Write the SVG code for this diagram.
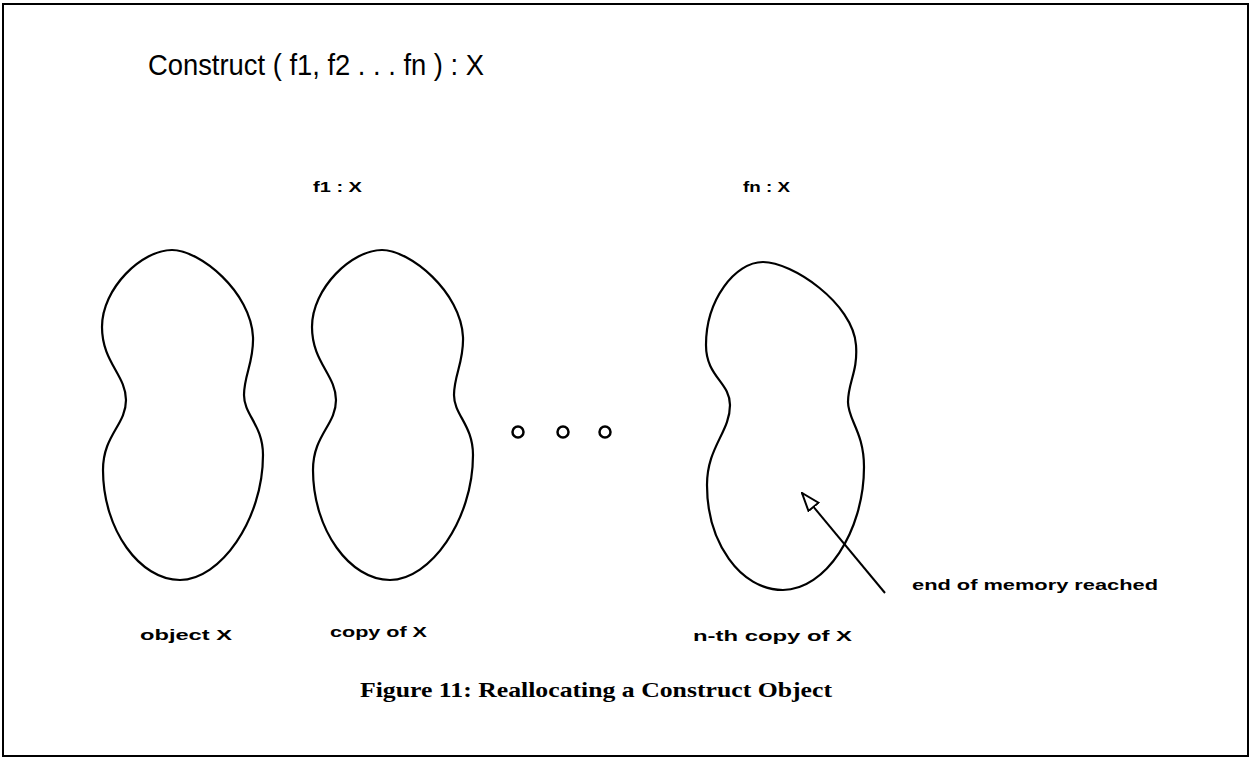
<svg xmlns="http://www.w3.org/2000/svg" width="1251" height="759" viewBox="0 0 1251 759">
<style>
.blob{fill:none;stroke:#000;stroke-width:2.2}
.lbl{font-family:"Liberation Sans",Arial,sans-serif;font-size:15px;font-weight:bold;fill:#000}
.title{font-family:"Liberation Sans",Arial,sans-serif;font-size:29px;fill:#000}
.cap{font-family:"Liberation Serif","Times New Roman",serif;font-size:21px;font-weight:bold;fill:#000}
.dot{fill:none;stroke:#000;stroke-width:2.5}
</style>
<defs>
<marker id="open" markerUnits="userSpaceOnUse" viewBox="0 0 20 16" refX="19" refY="8" markerWidth="20" markerHeight="16" orient="auto">
<path d="M1,1.5 L19,8 L1,14.5 Z" fill="#fff" stroke="#000" stroke-width="2"/>
</marker>
<path id="peanut" d="M172,250 C200,250 251,292 253,337 C254,362 244,375 244,395 C244,415 263,425 263,455 C263,520 220,580 180,580 C140,580 103,530 103,470 C103,435 126,425 126,400 C126,375 102,362 102,327 C102,288 142,250 172,250 Z"/>
</defs>
<rect x="3" y="4" width="1245" height="752" fill="#fff" stroke="#000" stroke-width="2"/>
<text class="title" x="148" y="75" textLength="336" lengthAdjust="spacingAndGlyphs">Construct ( f1, f2 . . . fn ) : X</text>
<g id="object-x">
<use href="#peanut" class="blob"/>
<text class="lbl" x="140" y="640" textLength="92" lengthAdjust="spacingAndGlyphs">object X</text>
</g>
<g id="copy-1">
<use href="#peanut" class="blob" transform="translate(210,0)"/>
<text class="lbl" x="313" y="192" textLength="49" lengthAdjust="spacingAndGlyphs">f1 : X</text>
<text class="lbl" x="330" y="637" textLength="97" lengthAdjust="spacingAndGlyphs">copy of X</text>
</g>
<g id="ellipsis">
<circle class="dot" cx="518" cy="432" r="5.5"/>
<circle class="dot" cx="563" cy="432" r="5.5"/>
<circle class="dot" cx="605" cy="432" r="5.5"/>
</g>
<g id="copy-n">
<path class="blob" d="M763,262 C792,262 853,303 856,345 C858,372 848,382 848,402 C848,420 864,432 864,467 C864,532 825,590 783,590 C740,590 707,542 707,485 C707,447 730,432 730,405 C730,382 706,377 706,345 C706,300 735,262 763,262 Z"/>
<text class="lbl" x="743" y="192" textLength="47" lengthAdjust="spacingAndGlyphs">fn : X</text>
<text class="lbl" x="693" y="641" textLength="159" lengthAdjust="spacingAndGlyphs">n-th copy of X</text>
</g>
<g id="note">
<text class="lbl" x="912" y="590" textLength="246" lengthAdjust="spacingAndGlyphs">end of memory reached</text>
</g>
<g id="connectors">
<line x1="885" y1="593" x2="802" y2="493" stroke="#000" stroke-width="2" marker-end="url(#open)"/>
</g>
<text class="cap" x="360" y="697" textLength="472" lengthAdjust="spacingAndGlyphs">Figure 11: Reallocating a Construct Object</text>
</svg>
